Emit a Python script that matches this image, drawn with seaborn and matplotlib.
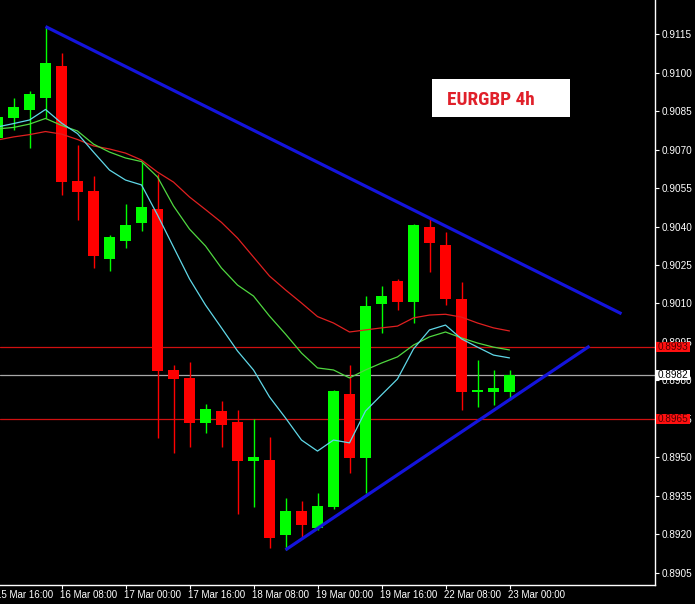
import matplotlib
matplotlib.use('Agg')
import matplotlib.pyplot as plt
import matplotlib.patches as mpatches
from matplotlib import font_manager as fm
import seaborn as sns
import numpy as np
import pandas as pd

# EURGBP 4h bars, 15 Mar 16:00 (index -1) .. 23 Mar 00:00 (index 31)
bar_idx = np.arange(-1, 32)
opens = [0.90744, 0.90824, 0.90854, 0.90902, 0.91025, 0.90577, 0.90538, 0.90273, 0.90345, 0.90415,
         0.90468, 0.89841, 0.89810, 0.89636, 0.89682, 0.89638, 0.89486, 0.89490, 0.89198, 0.89292,
         0.89227, 0.89308, 0.89747, 0.89499, 0.90097, 0.90188, 0.90107, 0.90399, 0.90328, 0.90119,
         0.89755, 0.89756, 0.89756]
highs = [0.90846, 0.90900, 0.90928, 0.91177, 0.91077, 0.90718, 0.90597, 0.90367, 0.90489, 0.90652,
         0.90605, 0.89860, 0.89872, 0.89708, 0.89721, 0.89685, 0.89650, 0.89581, 0.89343, 0.89331,
         0.89362, 0.89763, 0.89860, 0.90129, 0.90168, 0.90196, 0.90410, 0.90428, 0.90380, 0.90185,
         0.89880, 0.89841, 0.89841]
lows = [0.90718, 0.90776, 0.90706, 0.90823, 0.90523, 0.90425, 0.90238, 0.90227, 0.90316, 0.90384,
        0.89576, 0.89518, 0.89542, 0.89597, 0.89542, 0.89280, 0.89308, 0.89147, 0.89140, 0.89191,
        0.89218, 0.89299, 0.89438, 0.89361, 0.89986, 0.90075, 0.90025, 0.90224, 0.90094, 0.89685,
        0.89698, 0.89705, 0.89724]
closes = [0.90825, 0.90867, 0.90916, 0.91038, 0.90575, 0.90536, 0.90286, 0.90359, 0.90406, 0.90476,
          0.89838, 0.89807, 0.89636, 0.89689, 0.89627, 0.89486, 0.89502, 0.89188, 0.89292, 0.89237,
          0.89312, 0.89760, 0.89499, 0.90090, 0.90129, 0.90107, 0.90406, 0.90337, 0.90116, 0.89756,
          0.89763, 0.89770, 0.89820]

# moving averages
ma_fast = [0.90788, 0.90801, 0.90815, 0.90856, 0.90803, 0.90762, 0.90690, 0.90620, 0.90581, 0.90562,
           0.90445, 0.90320, 0.90196, 0.90094, 0.90005, 0.89915, 0.89841, 0.89736, 0.89654, 0.89568,
           0.89525, 0.89568, 0.89557, 0.89681, 0.89744, 0.89806, 0.89923, 0.89997, 0.90016, 0.89962,
           0.89930, 0.89899, 0.89888]
ma_mid = [0.90780, 0.90786, 0.90799, 0.90821, 0.90794, 0.90772, 0.90721, 0.90690, 0.90667, 0.90653,
          0.90593, 0.90480, 0.90390, 0.90324, 0.90238, 0.90172, 0.90129, 0.90051, 0.89981, 0.89907,
          0.89849, 0.89841, 0.89810, 0.89841, 0.89868, 0.89892, 0.89938, 0.89970, 0.89989, 0.89966,
          0.89946, 0.89930, 0.89919]
ma_slow = [0.90737, 0.90749, 0.90758, 0.90770, 0.90760, 0.90739, 0.90714, 0.90702, 0.90686, 0.90659,
           0.90612, 0.90573, 0.90515, 0.90466, 0.90416, 0.90355, 0.90281, 0.90207, 0.90153, 0.90102,
           0.90049, 0.90024, 0.89989, 0.89997, 0.90005, 0.90012, 0.90044, 0.90055, 0.90058, 0.90047,
           0.90024, 0.90005, 0.89993]

time_ticks = [-1, 3, 7, 11, 15, 19, 23, 27, 31]
time_labels = ['15 Mar 16:00', '16 Mar 08:00', '17 Mar 00:00', '17 Mar 16:00', '18 Mar 08:00',
               '19 Mar 00:00', '19 Mar 16:00', '22 Mar 08:00', '23 Mar 00:00']

upper_trend_x = [2, 38]
upper_trend_y = [0.91179, 0.90060]
lower_trend_x = [17, 36]
lower_trend_y = [0.89140, 0.89934]

red_levels = [0.8993, 0.8965]
bid = 0.8982

price_ticks = np.round(np.arange(0.8905, 0.91151, 0.0015), 4)

sns.set_theme(style='dark', rc={'axes.facecolor': 'black', 'figure.facecolor': 'black',
                                'axes.edgecolor': 'white', 'text.color': 'white',
                                'xtick.color': 'white', 'ytick.color': 'white'})
plt.rcParams['font.family'] = ['Liberation Sans', 'DejaVu Sans']

# pick a narrow face for the label if one is there
title_font = fm.FontProperties(family='Liberation Sans', weight='bold')
for fam, stretch in [('Liberation Sans Narrow', 'normal'), ('Roboto Condensed', 'normal'),
                     ('DejaVu Sans Condensed', 'normal'), ('Open Sans Condensed', 'normal')]:
    fp = fm.FontProperties(family=fam, weight='bold', stretch=stretch)
    try:
        fm.findfont(fp, fallback_to_default=False)
        title_font = fp
        break
    except ValueError:
        pass

fig = plt.figure(figsize=(6.95, 6.04), dpi=100)
ax = fig.add_axes([0, 19 / 604, 655 / 695, 585 / 604])

o = np.array(opens)
c = np.array(closes)
up = c >= o
colors = np.where(up, '#00ff00', '#ff0000')

# levels behind the candles
for lvl in red_levels:
    ax.axhline(lvl, color='#d01010', lw=0.9, zorder=0.5)
ax.axhline(bid, color='#a8a8a8', lw=0.9, zorder=0.5)

ax.vlines(bar_idx, lows, highs, colors=colors, lw=1, zorder=1)
body = np.maximum(np.abs(c - o), 0.00004)
ax.bar(bar_idx, body, bottom=np.minimum(o, c), width=0.6875, color=colors, linewidth=0, zorder=2)

ma_df = pd.DataFrame({
    'bar': np.tile(bar_idx, 3),
    'price': ma_slow + ma_mid + ma_fast,
    'ma': ['slow'] * len(bar_idx) + ['mid'] * len(bar_idx) + ['fast'] * len(bar_idx),
})
sns.lineplot(data=ma_df, x='bar', y='price', hue='ma', sort=False, legend=False, lw=0.9,
             palette={'slow': '#e02020', 'mid': '#50d840', 'fast': '#60d8e8'}, ax=ax, zorder=3)

ax.plot(upper_trend_x, upper_trend_y, color='#1414dc', lw=2.3, solid_capstyle='butt', zorder=4)
ax.plot(lower_trend_x, lower_trend_y, color='#1414dc', lw=2.3, solid_capstyle='butt', zorder=4)

ax.set_xlim(-0.84375, 40.09375)
ax.set_ylim(0.890032, 0.912825)
ax.set_xlabel('')
ax.set_ylabel('')

for s in ['top', 'left']:
    ax.spines[s].set_visible(False)
for s in ['right', 'bottom']:
    ax.spines[s].set_color('white')
    ax.spines[s].set_linewidth(1)

ax.yaxis.tick_right()
ax.set_yticks(price_ticks)
ax.set_yticklabels([f'{p:.4f}' for p in price_ticks])
ax.tick_params(axis='y', right=True, direction='out', length=3, width=0.8, pad=2,
               labelsize=7.2, colors='white')
ax.set_xticks(time_ticks[1:])
ax.set_xticklabels([])
ax.tick_params(axis='x', bottom=True, direction='out', length=3, width=0.8, colors='white')

for t, lab in zip(time_ticks, time_labels):
    ax.text(t - 0.07, -0.017, lab, transform=ax.get_xaxis_transform(), ha='left', va='center',
            fontsize=7, color='white', clip_on=False)

# price boxes on the right scale
ytr = ax.get_yaxis_transform()
for lvl, fc, tc in [(red_levels[0], '#ff1010', '#500000'), (bid, 'white', 'black'),
                    (red_levels[1], '#ff1010', '#500000')]:
    ax.add_patch(mpatches.Rectangle((1.0015, lvl - 0.000195), 0.052, 0.00039, transform=ytr,
                                    facecolor=fc, edgecolor='none', clip_on=False, zorder=6))
    ax.text(1.0015 + 0.026, lvl, f'{lvl:.4f}', transform=ytr, ha='center', va='center',
            fontsize=7.2, color=tc, zorder=7, clip_on=False)

# title label
ax.add_patch(mpatches.Rectangle((432 / 655, 0.7995), 138 / 655, 0.065, transform=ax.transAxes,
                                facecolor='white', edgecolor='none', zorder=8))
title = ax.text(446.7 / 655, (585 - 105) / 585, 'EURGBP 4h', transform=ax.transAxes,
                ha='left', va='baseline', fontproperties=title_font, color='#e0202a', zorder=9)
title.set_fontsize(16)
rend = fig.canvas.get_renderer()
w = title.get_window_extent(renderer=rend).width
title.set_fontsize(min(17, 16 * 88 / w))

fig.savefig('out.png', dpi=100, facecolor='black')
